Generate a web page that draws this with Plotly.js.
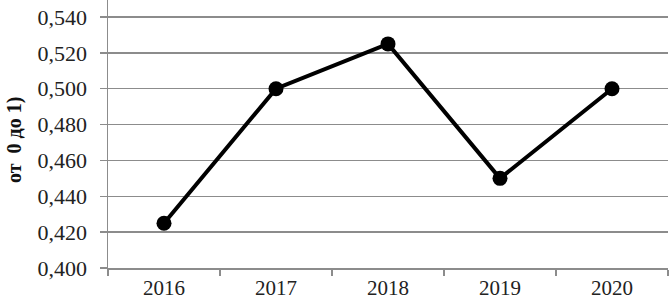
<!DOCTYPE html>
<html>
<head>
<meta charset="utf-8">
<script src="https://cdn.plot.ly/plotly-3.0.1.min.js"></script>
<style>html,body{margin:0;padding:0;background:#fff}#chart{width:670px;height:303px}</style>
</head>
<body>
<div id="chart"></div>
<script>
const years = ['2016', '2017', '2018', '2019', '2020'];
const values = [0.425, 0.500, 0.525, 0.450, 0.500];
const yTicks = [0.400, 0.420, 0.440, 0.460, 0.480, 0.500, 0.520, 0.540];
const yTitle = 'от  0 до 1)';

const L = 108, W = 560, T = 0, H = 268;
const FAM = 'Liberation Serif, Times New Roman, serif';

const trace = {
  x: years,
  y: values,
  type: 'scatter',
  mode: 'lines+markers',
  line: {color: '#000', width: 4},
  marker: {color: '#000', size: 15},
  cliponaxis: false,
  hoverinfo: 'skip'
};

const layout = {
  width: 670, height: 303,
  margin: {l: L, r: 670 - L - W, t: T, b: 303 - T - H},
  paper_bgcolor: '#fff', plot_bgcolor: '#fff',
  separators: ',.',
  font: {family: FAM, size: 21, color: '#222'},
  showlegend: false,
  xaxis: {
    type: 'category',
    range: [-0.5, 4.5],
    showgrid: false,
    zeroline: false,
    showline: true, linecolor: '#8c8c8c', linewidth: 1.5,
    ticks: 'outside', tickson: 'boundaries', ticklen: 6, tickcolor: '#8c8c8c', tickwidth: 1.5,
    tickfont: {family: FAM, size: 21, color: '#222'},
    fixedrange: true
  },
  yaxis: {
    range: [0.400, 0.5495],
    tickvals: yTicks,
    tickformat: '.3f',
    showgrid: true, gridcolor: '#8c8c8c', gridwidth: 1.5,
    zeroline: false,
    showline: true, linecolor: '#8c8c8c', linewidth: 1.5,
    ticks: 'outside', ticklen: 7, tickcolor: '#8c8c8c', tickwidth: 1.5,
    ticklabelstandoff: 8,
    tickfont: {family: FAM, size: 22, color: '#222'},
    fixedrange: true
  },
  annotations: [{
    text: '<b>' + yTitle + '</b>',
    xref: 'paper', yref: 'paper',
    x: (14 - L) / W, y: (T + H - 140) / H,
    xanchor: 'center', yanchor: 'middle',
    textangle: -90,
    showarrow: false,
    font: {family: FAM, size: 20, color: '#111'}
  }]
};

Plotly.newPlot('chart', [trace], layout, {displayModeBar: false, staticPlot: true});
</script>
</body>
</html>
